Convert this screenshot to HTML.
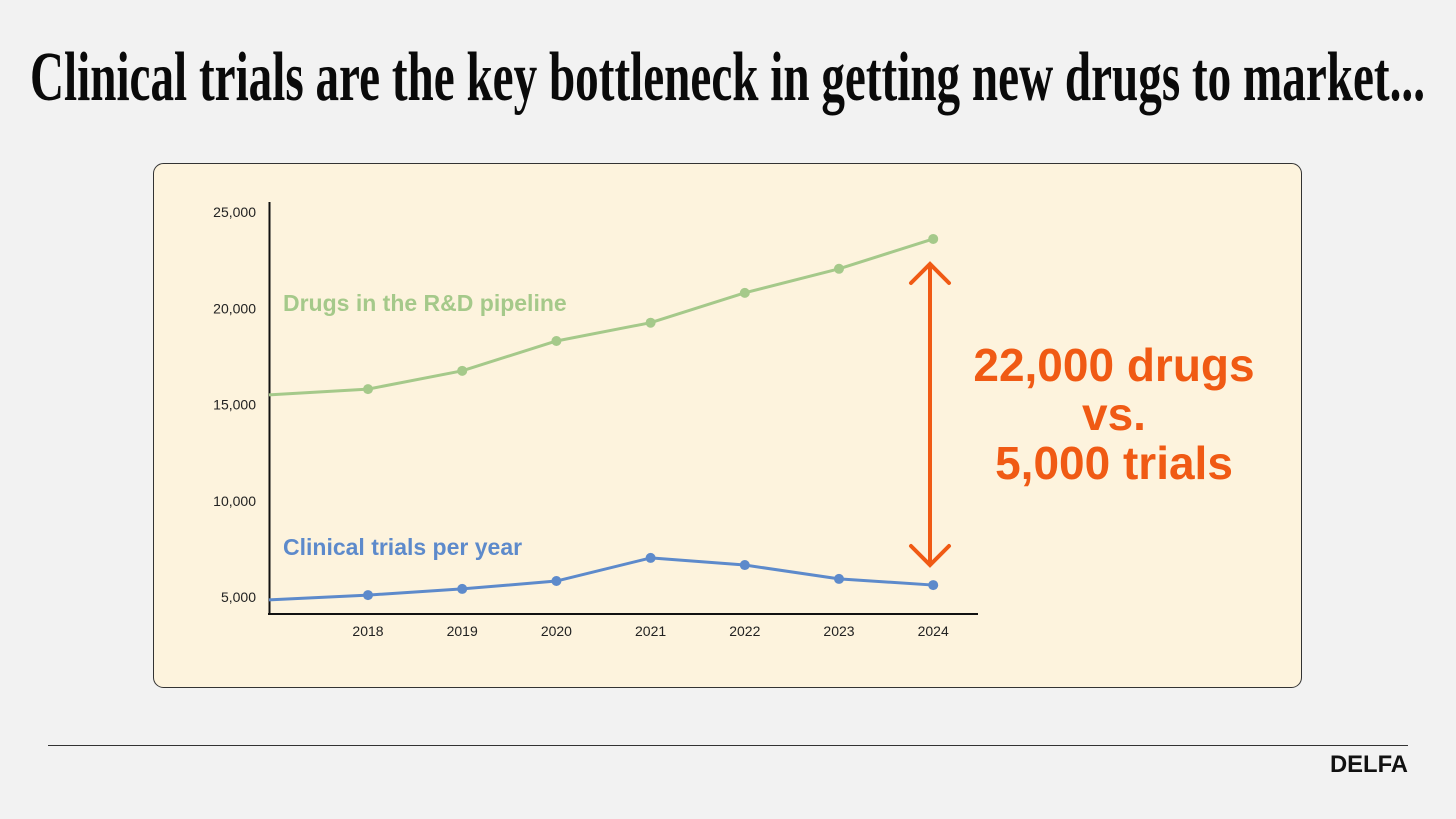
<!DOCTYPE html>
<html><head><meta charset="utf-8"><style>
html,body{margin:0;padding:0;background:#f2f2f2;}
svg{display:block;font-family:"Liberation Sans",sans-serif;}
</style></head><body>
<svg id="chart" width="1456" height="819" viewBox="0 0 1456 819">
<rect x="0" y="0" width="1456" height="819" fill="#f2f2f2"/>
<text x="30" y="100" font-family="Liberation Serif, serif" font-weight="bold" font-size="70" textLength="1395" lengthAdjust="spacingAndGlyphs" fill="#0a0a0a">Clinical trials are the key bottleneck in getting new drugs to market...</text>
<rect x="153.5" y="163.5" width="1148" height="524" rx="10" fill="#fdf3dd" stroke="#333" stroke-width="1"/>
<g id="plot"></g>
<line x1="48" y1="745.5" x2="1408" y2="745.5" stroke="#333" stroke-width="1"/>
<text x="1408" y="772" text-anchor="end" font-weight="bold" font-size="24" fill="#111" textLength="78" lengthAdjust="spacingAndGlyphs">DELFA</text>
</svg>
<script>
const years = [2017, 2018, 2019, 2020, 2021, 2022, 2023, 2024];
const drugsPipeline = [15500, 15800, 16750, 18300, 19250, 20800, 22050, 23600];
const clinicalTrials = [4850, 5100, 5420, 5830, 7030, 6660, 5940, 5620];
const yTicks = [5000, 10000, 15000, 20000, 25000];
const yTickLabels = ["5,000", "10,000", "15,000", "20,000", "25,000"];
const xTickYears = [2018, 2019, 2020, 2021, 2022, 2023, 2024];

const NS = "http://www.w3.org/2000/svg";
const g = document.getElementById("plot");
function xs(yr){ return yr === 2017 ? 269 : 368 + (yr - 2018) * 94.2; }
function ys(v){ return 597 - (v - 5000) * 96.25 / 5000; }
function mk(tag, attrs, parent){ const e = document.createElementNS(NS, tag); for (const k in attrs) e.setAttribute(k, attrs[k]); (parent || g).appendChild(e); return e; }

// axes
let ax = mk("line", {x1:269.5, y1:202, x2:269.5, y2:615, stroke:"#111", "stroke-width":2});


ax = mk("line", {x1:268, y1:614, x2:978, y2:614, stroke:"#111", "stroke-width":2});



yTicks.forEach((v, i) => {
  const t = mk("text", {x:256, y:ys(v) + 5, "text-anchor":"end", "font-size":14, fill:"#222"});
  t.textContent = yTickLabels[i];
  
  
});
xTickYears.forEach(yr => {
  const t = mk("text", {x:xs(yr), y:636, "text-anchor":"middle", "font-size":14, fill:"#222"});
  t.textContent = yr;
  
  
});

function series(vals, color, name){
  const pts = years.map((yr, i) => xs(yr) + "," + ys(vals[i])).join(" ");
  const pl = mk("polyline", {points:pts, fill:"none", stroke:color, "stroke-width":3, "stroke-linejoin":"round"});
  
  
  years.forEach((yr, i) => {
    if (yr === 2017) return;
    const c = mk("circle", {cx:xs(yr), cy:ys(vals[i]), r:5, fill:color});
    
    
  });
}
series(drugsPipeline, "#a5c98a", "drugs-pipeline");
series(clinicalTrials, "#5d8acb", "clinical-trials");

let lb = mk("text", {x:283, y:311, "font-size":23, "font-weight":"bold", fill:"#a5c98a"});
lb.textContent = "Drugs in the R&D pipeline";


lb = mk("text", {x:283, y:555, "font-size":23, "font-weight":"bold", fill:"#5d8acb"});
lb.textContent = "Clinical trials per year";



// arrow
const oc = "#f05a14";
let ar = mk("line", {x1:930, y1:266, x2:930, y2:563, stroke:oc, "stroke-width":4});


ar = mk("polyline", {points:"911,283 930,264 949,283", fill:"none", stroke:oc, "stroke-width":4, "stroke-linecap":"round"});


ar = mk("polyline", {points:"911,546 930,565 949,546", fill:"none", stroke:oc, "stroke-width":4, "stroke-linecap":"round"});



[["22,000 drugs", 381], ["vs.", 430], ["5,000 trials", 479]].forEach(([s, y]) => {
  const t = mk("text", {x:1114, y:y, "text-anchor":"middle", "font-size":46, "font-weight":"bold", fill:oc});
  t.textContent = s;
  
  
});
</script>
</body></html>
